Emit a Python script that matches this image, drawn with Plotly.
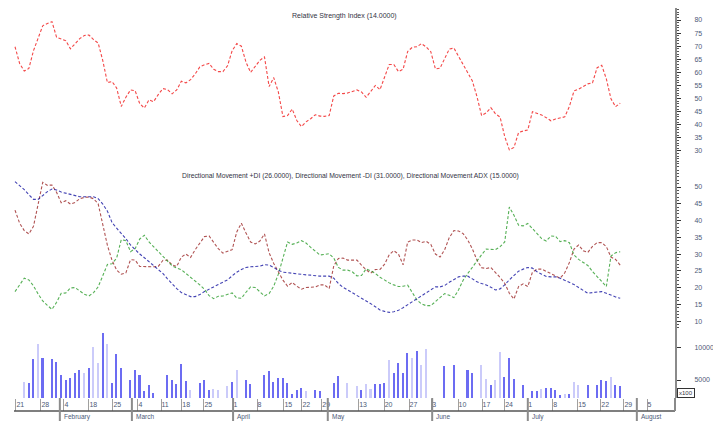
import plotly.graph_objects as go

# ---------------- data (trading-day index on x) ----------------
DAYS = list(range(132))

RSI = [69.8, 63.4, 60.5, 61.5, 68.3, 73.0, 77.8, 78.7, 79.4, 73.4,
       72.8, 72.1, 69.0, 70.9, 72.9, 74.1, 74.3, 72.5, 71.2, 64.5,
       56.1, 56.5, 54.0, 47.0, 50.5, 53.3, 53.0, 48.0, 46.4, 49.5,
       48.8, 51.5, 53.8, 53.4, 51.8, 53.3, 56.6, 56.0, 57.2, 59.4,
       62.1, 62.9, 63.4, 61.2, 60.3, 60.3, 62.5, 68.3, 71.0, 70.0,
       63.9, 60.0, 62.3, 64.6, 65.9, 54.6, 58.0, 52.5, 43.1, 43.5,
       46.0, 41.6, 39.3, 41.1, 42.3, 43.8, 43.3, 43.2, 43.5, 51.0,
       52.0, 51.9, 52.1, 52.6, 53.3, 52.5, 50.5, 52.7, 55.0, 53.4,
       58.3, 63.0, 63.0, 60.3, 61.2, 68.0, 69.6, 69.8, 71.0, 69.7,
       67.9, 61.3, 61.6, 65.2, 68.9, 69.3, 66.0, 62.8, 59.4, 56.7,
       50.7, 43.5, 44.5, 46.5, 44.2, 42.9, 35.5, 30.4, 31.3, 37.0,
       37.6, 38.0, 45.0, 44.4, 43.7, 42.7, 41.5, 42.2, 42.7, 43.0,
       47.0, 52.9, 53.6, 54.6, 55.6, 56.0, 61.8, 62.7, 57.5, 49.9,
       46.9, 48.2]

DI_PLUS = [43.1, 39.2, 37.0, 36.0, 38.3, 45.3, 51.4, 50.5, 50.6, 48.4,
           45.3, 45.9, 44.9, 45.4, 46.5, 46.9, 47.0, 46.5, 45.0, 38.8,
           32.6, 28.1, 25.2, 24.0, 24.4, 28.3, 28.2, 26.3, 26.2, 26.2,
           26.2, 26.3, 28.1, 28.2, 26.8, 26.3, 29.1, 30.0, 29.0, 31.3,
           33.3, 35.2, 35.4, 33.4, 31.6, 30.3, 30.8, 31.3, 36.6, 39.2,
           36.3, 33.6, 33.0, 33.9, 36.0, 30.4, 27.2, 24.6, 22.2, 20.4,
           21.5, 20.4, 19.5, 20.0, 20.2, 20.2, 20.8, 20.8, 19.7, 26.5,
           28.7, 28.8, 28.2, 28.2, 28.2, 26.7, 25.3, 24.3, 25.4, 25.4,
           27.0, 29.8, 31.0, 30.0, 26.8, 33.6, 34.2, 34.2, 33.4, 33.8,
           32.9, 30.0, 29.1, 31.3, 34.9, 37.0, 36.9, 36.1, 34.2, 31.5,
           28.2, 25.9, 25.7, 26.0, 24.6, 23.0, 21.3, 18.3, 16.6, 20.3,
           21.1, 20.3, 24.6, 25.5, 25.5, 24.8, 24.0, 23.4, 22.8, 24.4,
           27.5, 31.5, 32.7, 31.0, 30.5, 32.3, 33.4, 33.4, 32.2, 29.1,
           28.4, 26.7]

DI_MINUS = [18.8, 21.0, 22.8, 22.3, 20.5, 18.1, 16.0, 14.7, 13.5, 15.6,
            18.3, 18.4, 19.9, 20.0, 18.9, 18.0, 17.5, 18.5, 20.2, 23.7,
            26.9, 27.1, 28.8, 34.3, 34.0, 30.7, 31.6, 34.5, 35.6, 33.6,
            32.2, 30.9, 29.5, 28.1, 26.5, 25.8, 25.3, 24.2, 23.1, 21.9,
            20.8, 19.5, 17.6, 16.7, 17.4, 17.5, 18.0, 18.4, 16.9, 16.8,
            18.6, 20.2, 20.0, 18.8, 17.5, 18.2, 20.4, 24.0, 28.5, 33.6,
            32.9, 33.3, 34.0, 33.3, 32.0, 30.9, 29.7, 29.9, 30.1, 28.8,
            26.0, 25.2, 25.2, 24.7, 23.5, 23.6, 25.6, 25.0, 24.2, 23.1,
            22.2, 21.4, 20.8, 20.3, 20.4, 20.7, 18.5, 16.3, 15.1, 14.6,
            14.6, 15.9, 17.0, 18.2, 17.7, 17.0, 19.3, 22.2, 24.2, 26.2,
            28.0, 29.8, 31.5, 31.5, 31.3, 32.2, 33.6, 44.0, 41.6, 38.6,
            38.4, 39.1, 37.6, 36.2, 34.6, 33.9, 35.4, 35.3, 33.7, 34.0,
            33.4, 29.7, 28.4, 27.5, 26.6, 24.8, 23.2, 21.7, 20.3, 29.4,
            30.4, 30.7]

ADX = [51.6, 50.5, 49.2, 47.7, 46.3, 46.3, 47.4, 48.6, 49.4, 49.1,
       48.5, 48.1, 47.7, 47.3, 47.1, 47.1, 47.1, 47.1, 46.5, 44.9,
       42.8, 39.4, 37.7, 36.2, 34.6, 32.7, 31.2, 30.0, 28.9, 27.7,
       26.5, 25.4, 24.2, 22.6, 21.0, 19.7, 18.5, 17.8, 17.3, 17.3,
       17.9, 18.8, 19.6, 20.2, 20.9, 21.6, 22.3, 23.5, 24.6, 25.4,
       26.0, 26.2, 26.2, 26.4, 26.8, 26.7, 26.0, 25.1, 24.6, 24.4,
       24.2, 24.1, 24.0, 23.8, 23.7, 23.5, 23.4, 23.4, 23.4, 22.8,
       21.2, 20.1, 19.3, 18.5, 17.8, 17.0, 16.1, 15.2, 14.3, 13.3,
       12.9, 12.6, 12.8, 13.2, 14.0, 14.9, 15.9, 16.8, 17.7, 18.6,
       19.5, 20.2, 20.2, 20.6, 21.6, 22.5, 23.2, 23.4, 23.4, 22.6,
       21.7, 21.2, 20.8, 20.1, 19.3, 19.6, 20.8, 22.3, 23.7, 24.9,
       25.5, 26.0, 25.8, 24.7, 24.0, 23.3, 23.2, 23.2, 22.8, 22.2,
       21.6, 20.9, 20.0, 19.1, 18.3, 18.5, 18.6, 18.8, 18.3, 17.7,
       17.2, 16.8]

VOLUME = [None, None, 4755, 4604, 8139, 10462, 8290, None, 8139, 7684,
          5765, 5008, 5361, 6119, 6523, 6018, 6775, 10058, 7533, 12078,
          10462, 4604, 8947, 6775, None, 5008, 6523, 5765, 3240, 4250,
          2988, None, None, 5765, 5008, 4402, 7381, 4856, 3493, None,
          4604, 5008, 3493, 3594, 3493, None, 4038, 4755, 6523, None,
          5008, 4402, None, None, 5765, 6371, 4755, 5260, 5260, 4604,
          2836, 3493, 3745, 3240, None, 3493, 3240, None, None, 4604,
          5614, None, 4604, None, 4038, 3493, 4402, 3594, 4351, 4351,
          4604, 8038, 6119, 7533, 6018, 9047, 8290, 9452, 7280, 9654,
          None, None, None, 7129, None, 7280, None, None, 6523, 6018,
          None, 7280, 5109, 4250, 5008, 9250, 5411, 8290, 5159, None,
          4199, None, 3240, 3240, 3594, 3745, 3846, 3493, 2685, 2836,
          2836, 4755, 4250, None, 4250, None, 4250, 5008, 4906, 5512,
          4250, 4038]

VOL_SHADE = list("--LDDLD-DD" "DDDDDLDLLD" "LDDD-DDDDD" "D--DDDDDL-"
                 "DDDLL-LDL-" "DD--DDDDDD" "DDDL-DD--D" "D-L-LDLLDD"
                 "DLDDDDLDLL" "---D-D--DD" "-LLDLLDDD-" "D-DDLDDDDL"
                 "DLL-D-DDDL" "DD")

TICK_POS = [0.2, 5.6, 10.6, 16.0, 21.2, 26.6, 31.6, 36.1, 40.9, 47.2, 52.4,
            58.2, 62.1, 66.4, 74.4, 79.9, 85.3, 90.2, 95.9, 101.1, 106.0,
            111.0, 116.4, 121.8, 126.8, 131.8, 136.8]
TICK_TEXT = ["21", "28", "4", "18", "25", "4", "11", "18", "25", "1", "8",
             "15", "22", "29", "13", "20", "27", "3", "10", "17", "24",
             "1", "8", "15", "22", "29", "5"]
MONTH_SEP = [9.7, 25.3, 47.2, 67.7, 90.3, 111.0, 134.6]
MONTH_TEXT = ["February", "March", "April", "May", "June", "July", "August"]

RSI_TICKS = [30, 35, 40, 45, 50, 55, 60, 65, 70, 75, 80]
DMI_TICKS = [10, 15, 20, 25, 30, 35, 40, 45, 50]
VOL_TICKS = [5000, 10000]
VOL_TICK_TEXT = ["5000", "10000"]

RSI_TITLE = "Relative Strength Index (14.0000)"
DMI_TITLE = ("Directional Movement +DI (26.0000), Directional Movement -DI (31.0000), "
             "Directional Movement ADX (15.0000)")

# ---------------- figure ----------------
FONT = "Liberation Sans, Arial, sans-serif"
TICKFONT = dict(family=FONT, size=7, color="#4d5a78")
DASH = "3px,2px"

fig = go.Figure()
fig.add_trace(go.Scatter(x=DAYS, y=RSI, mode="lines", xaxis="x", yaxis="y",
                         line=dict(color="rgba(240,25,25,0.8)", width=1.1, dash=DASH)))
fig.add_trace(go.Scatter(x=DAYS, y=DI_PLUS, mode="lines", xaxis="x", yaxis="y2",
                         line=dict(color="rgba(150,25,25,0.75)", width=1.1, dash=DASH)))
fig.add_trace(go.Scatter(x=DAYS, y=DI_MINUS, mode="lines", xaxis="x", yaxis="y2",
                         line=dict(color="rgba(30,150,30,0.75)", width=1.1, dash=DASH)))
fig.add_trace(go.Scatter(x=DAYS, y=ADX, mode="lines", xaxis="x", yaxis="y2",
                         line=dict(color="rgba(20,20,160,0.8)", width=1.1, dash=DASH)))

bar_colors = ["#6c6cf2" if s == "D" else "#cbcbfa" for s in VOL_SHADE]
fig.add_trace(go.Bar(x=DAYS, y=VOLUME, xaxis="x", yaxis="y3", width=0.33,
                     marker=dict(color=bar_colors, line=dict(width=0))))

yaxis_common = dict(side="right", anchor="x", showline=True, linecolor="#8a8a8a",
                    linewidth=2, ticks="outside", ticklen=4, tickwidth=1,
                    tickcolor="#333", showgrid=False, zeroline=False,
                    tickfont=TICKFONT, ticklabelstandoff=12, fixedrange=True)

fig.update_layout(
    width=713, height=421,
    margin=dict(l=0, r=38, t=8, b=23),
    paper_bgcolor="white", plot_bgcolor="white",
    showlegend=False, bargap=0,
    font=dict(family=FONT),
    xaxis=dict(domain=[0, 1], anchor="y3", range=[-3.25, 142.86],
               tickmode="array", tickvals=TICK_POS, ticktext=TICK_TEXT,
               ticks="outside", ticklen=12, tickwidth=1, tickcolor="#a0a0a0",
               ticklabelposition="outside right", ticklabelstandoff=0,
               tickfont=TICKFONT, showgrid=False, zeroline=False, showline=False,
               fixedrange=True),
    yaxis=dict(domain=[0.590, 1.0], range=[23.5, 84.6], tickmode="array",
               tickvals=RSI_TICKS, minor=dict(ticks="outside", ticklen=2, dtick=1, tickcolor="#555"),
               **yaxis_common),
    yaxis2=dict(domain=[0.174, 0.590], range=[7.3, 55.7], tickmode="array",
                tickvals=DMI_TICKS, minor=dict(ticks="outside", ticklen=2, dtick=1, tickcolor="#555"),
                **yaxis_common),
    yaxis3=dict(domain=[0, 0.174], range=[2273, 12576], tickmode="array",
                tickvals=VOL_TICKS, ticktext=VOL_TICK_TEXT, **yaxis_common),
)

annotations = [
    dict(text=RSI_TITLE, xref="paper", yref="paper", x=0.51, y=0.979,
         showarrow=False, font=dict(size=7, color="#334"), xanchor="center", yanchor="middle"),
    dict(text=DMI_TITLE, xref="paper", yref="paper", x=0.519, y=0.569,
         showarrow=False, font=dict(size=6.8, color="#334"), xanchor="center", yanchor="middle"),
    dict(text="x100", xref="paper", yref="paper", x=1.003, y=0.013,
         showarrow=False, font=dict(size=6, color="#334"), xanchor="left", yanchor="middle",
         bordercolor="#333", borderwidth=1, borderpad=1),
]
for pos, name in zip(MONTH_SEP, MONTH_TEXT):
    annotations.append(dict(text=name, xref="x", yref="paper", x=pos + 0.5, y=-0.0487,
                            showarrow=False, xanchor="left", yanchor="middle",
                            font=dict(size=6.5, color="#4d5a78")))
fig.update_layout(annotations=annotations)

shapes = [
    dict(type="line", xref="paper", yref="paper", x0=0.0207, x1=1.0, y0=-0.0333, y1=-0.0333,
         line=dict(color="#555", width=1.5)),
    dict(type="line", xref="paper", yref="paper", x0=1.0, x1=1.0, y0=0, y1=-0.0333,
         line=dict(color="#8a8a8a", width=2)),
]
for pos in MONTH_SEP:
    shapes.append(dict(type="line", xref="x", yref="paper", x0=pos, x1=pos, y0=0, y1=-0.059,
                       line=dict(color="#8c8c8c", width=2)))
fig.update_layout(shapes=shapes)

fig.write_html("out.html", config={"displayModeBar": False},
               post_script="document.body.style.margin='0px';")
